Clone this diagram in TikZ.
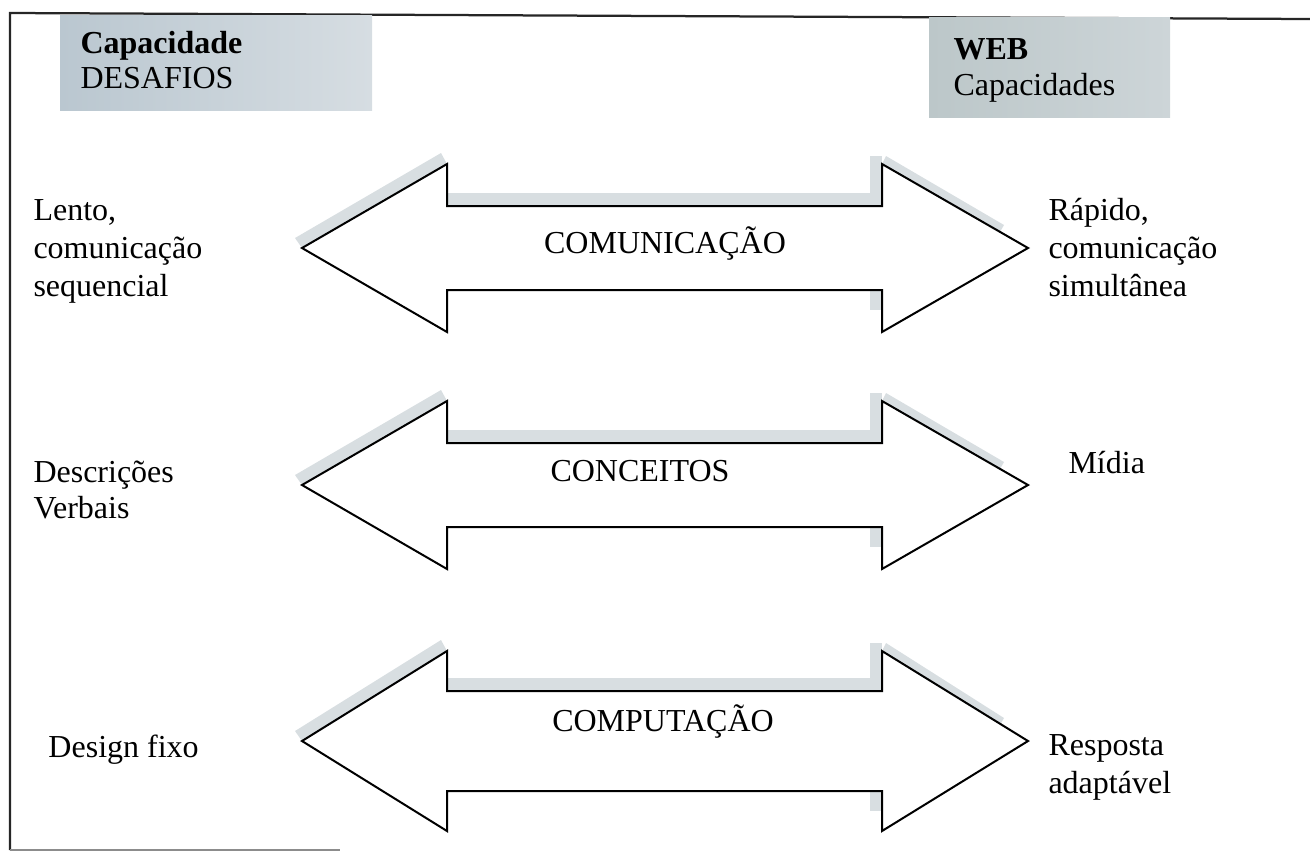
\documentclass[tikz,border=0pt]{standalone}
\usepackage{fontspec}
\setmainfont{Liberation Serif}
\definecolor{hdrleft}{RGB}{186,199,208}
\definecolor{hdrright}{RGB}{214,221,226}
\definecolor{hdrwebl}{RGB}{188,199,201}
\definecolor{hdrwebr}{RGB}{205,213,216}
\definecolor{bandgray}{RGB}{216,222,225}
\begin{document}
\begin{tikzpicture}[x=0.4pt,y=-0.4pt,
  txt/.style={font=\fontsize{12.8pt}{15.2pt}\selectfont, inner sep=0pt, anchor=base west},
  ctxt/.style={txt, anchor=base},
  btxt/.style={txt, font=\fontsize{12.8pt}{15.2pt}\selectfont\bfseries},
  arrowline/.style={draw=black, line width=0.8pt, fill=white, line join=miter},
  scanband/.style={fill=bandgray, draw=none},
  framerule/.style={draw=black!85, line width=0.9pt}
]
\useasboundingbox (0,0) rectangle (1310,855);

% outer frame (open on the right)
\draw[framerule] (1310,19) -- (10,13) -- (10,850);
\draw[draw=black!45, line width=0.9pt] (10,850) -- (340,850);

% header boxes
\shade[left color=hdrleft, right color=hdrright] (60,15) rectangle (372,110);
\shade[left color=hdrwebl, right color=hdrwebr] (929,17) rectangle (1170,117);
\node[btxt] (capa) at (80,53) {Capacidade};
\node[txt] (desa) at (80,88) {DESAFIOS};
\node[btxt] (web) at (953,59) {WEB};
\node[txt] (capas) at (953,95) {Capacidades};

% double-headed arrow: #1 centre height, #2 half head height, #3 half shaft height
\newcommand\twowayarrow[3]{%
  \fill[scanband] (302,#1) -- (447,#1-#2) -- (441,#1-#2-11) -- (295,#1-10) -- cycle;
  \fill[scanband] (447,#1-#3-13) rectangle (882,#1-#3);
  \fill[scanband] (870,#1-#2-8) rectangle (882,#1-#3);
  \fill[scanband] (870,#1+#3) rectangle (882,#1+#3+20);
  \fill[scanband] (882,#1-#2) -- (1000,#1-16) -- (1004,#1-23) -- (886,#1-#2-8) -- cycle;
  \draw[arrowline] (302,#1) -- (447,#1-#2) -- (447,#1-#3) -- (882,#1-#3)
    -- (882,#1-#2) -- (1028,#1) -- (882,#1+#2) -- (882,#1+#3)
    -- (447,#1+#3) -- (447,#1+#2) -- cycle;
}

\twowayarrow{248}{84}{42}
\twowayarrow{485}{84}{42}
\twowayarrow{741}{90}{50}

% arrow labels
\node[ctxt] (comu) at (665,253) {COMUNICAÇÃO};
\node[ctxt] (conc) at (640,481) {CONCEITOS};
\node[ctxt] (comp) at (663,731) {COMPUTAÇÃO};

% left column
\node[txt] (l1a) at (33,220) {Lento,};
\node[txt] (l1b) at (33,258) {comunicação};
\node[txt] (l1c) at (33,296) {sequencial};
\node[txt] (l2a) at (33,482) {Descrições};
\node[txt] (l2b) at (33,518) {Verbais};
\node[txt] (l3a) at (48,757) {Design fixo};

% right column
\node[txt] (r1a) at (1048,220) {Rápido,};
\node[txt] (r1b) at (1048,258) {comunicação};
\node[txt] (r1c) at (1048,296) {simultânea};
\node[txt] (r2a) at (1068,473) {Mídia};
\node[txt] (r3a) at (1048,755) {Resposta};
\node[txt] (r3b) at (1048,793) {adaptável};
\end{tikzpicture}
\end{document}
